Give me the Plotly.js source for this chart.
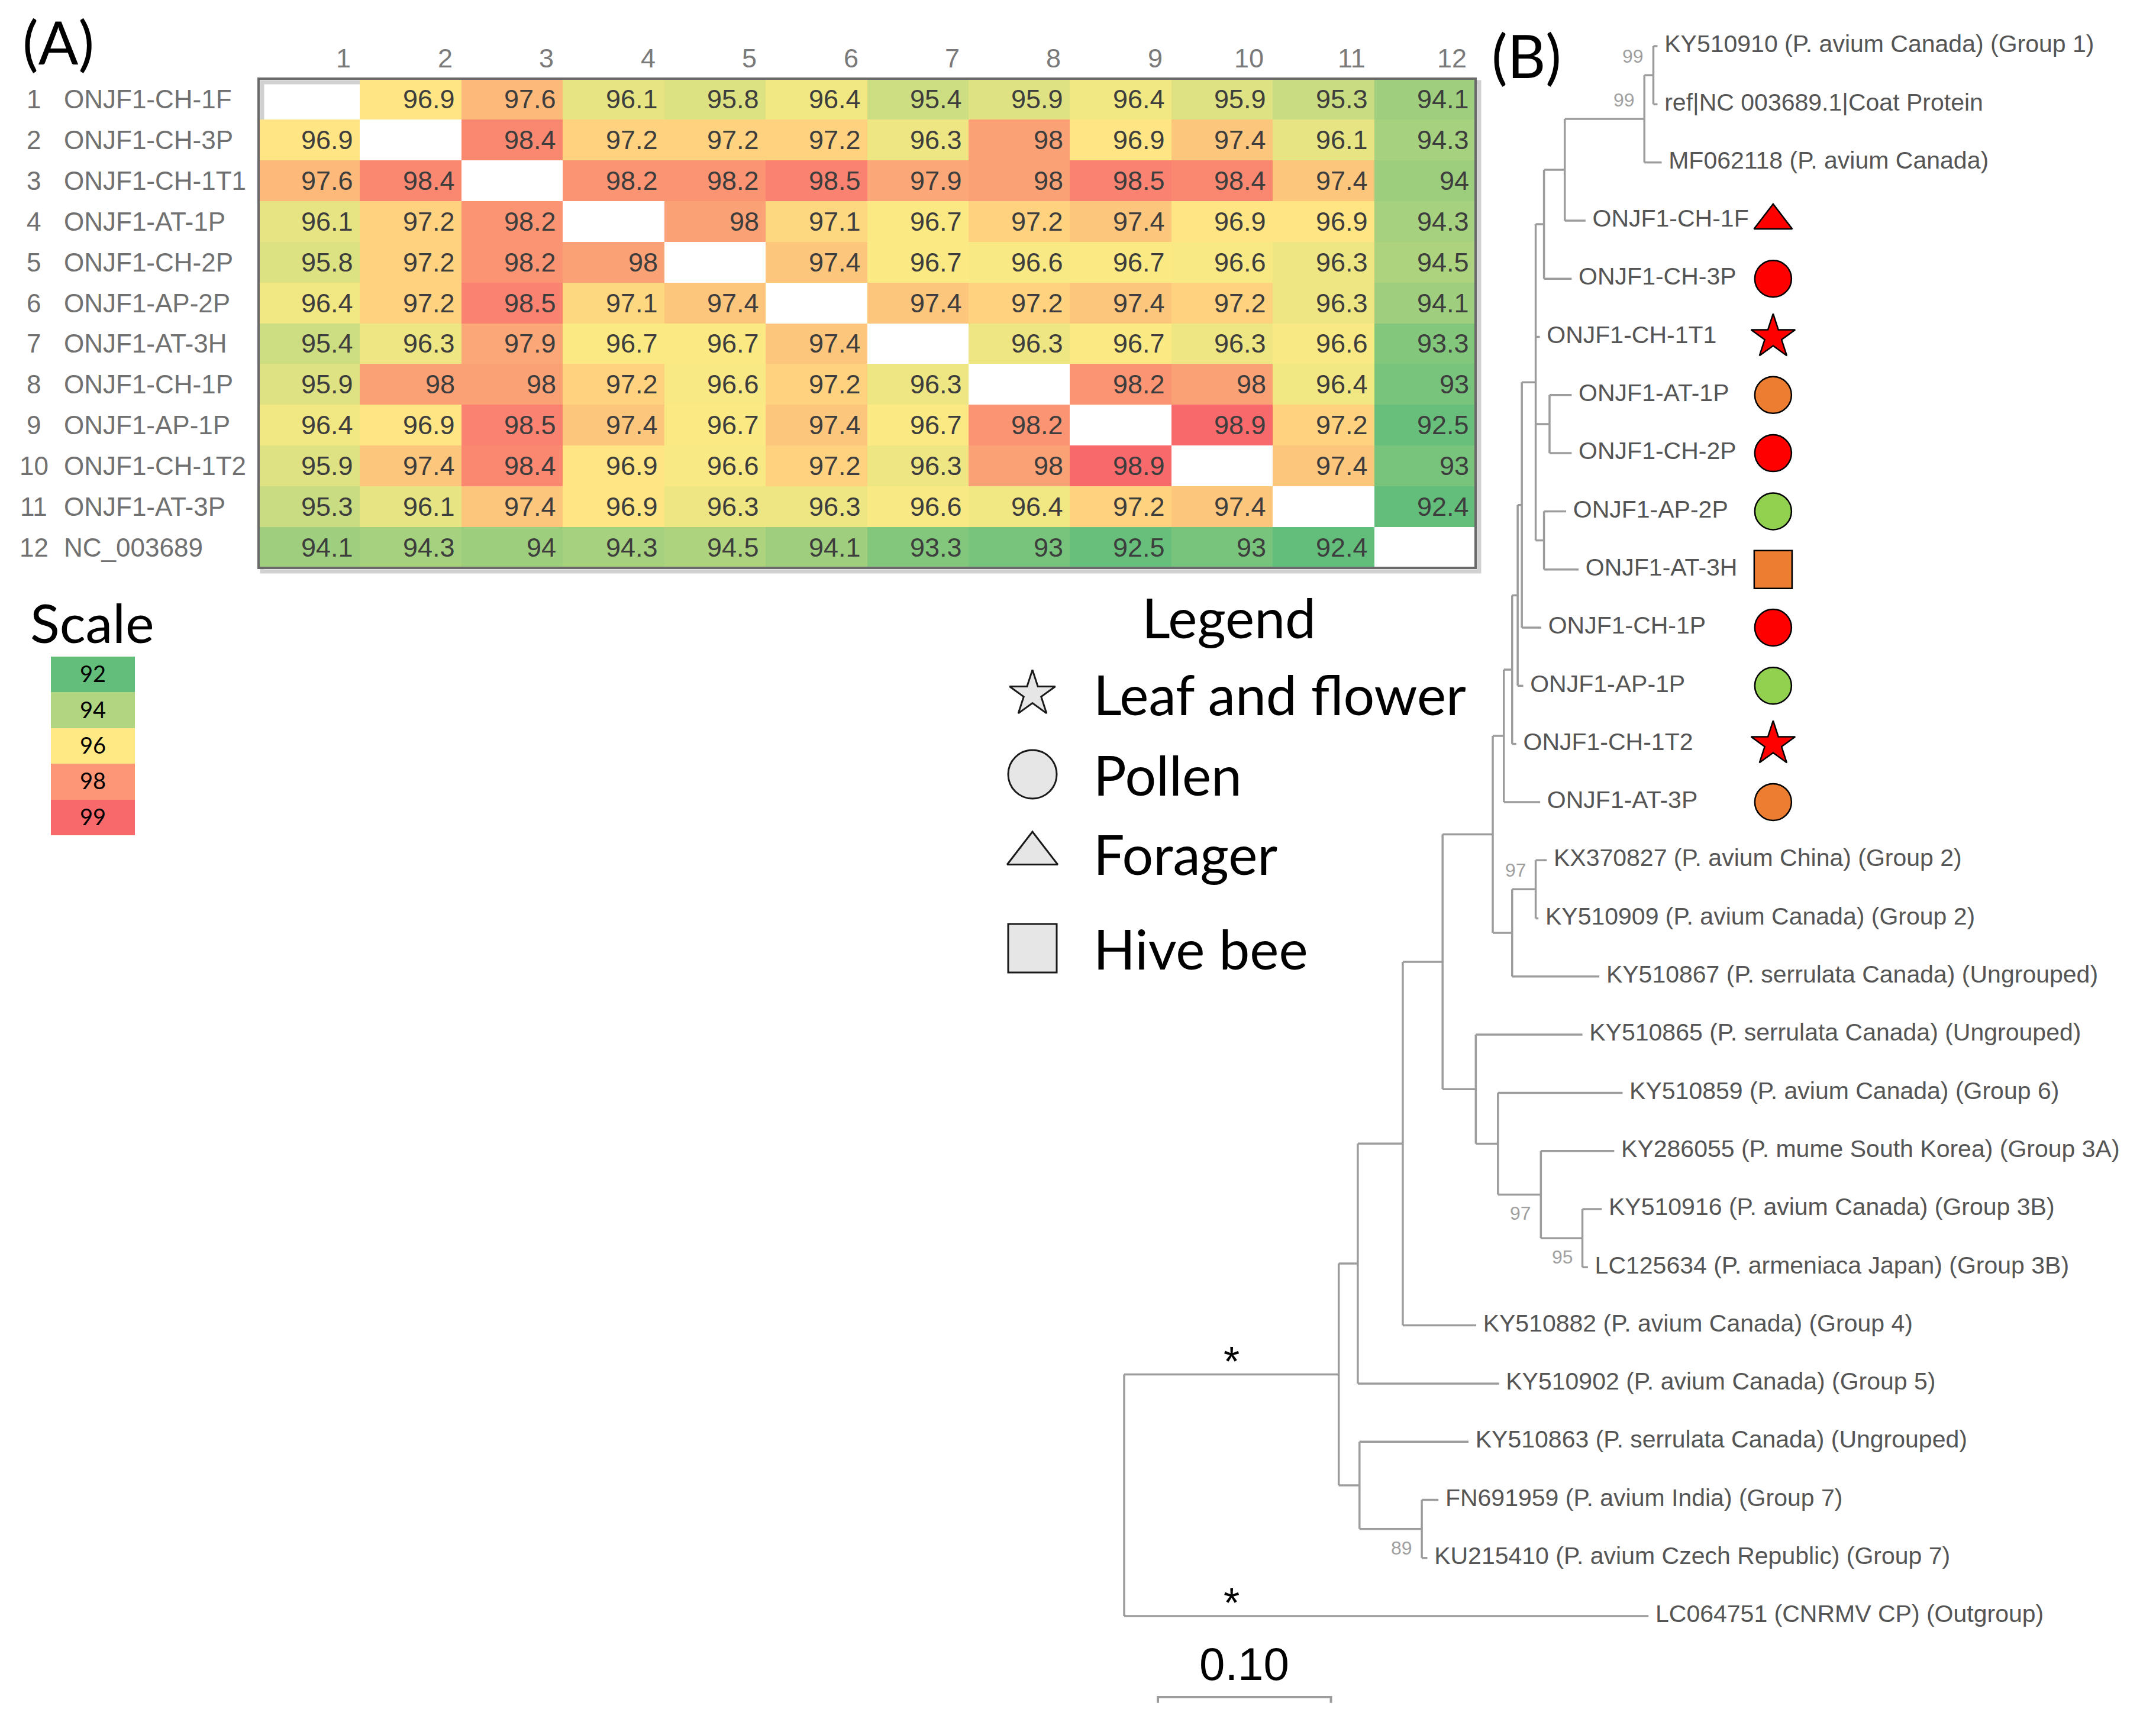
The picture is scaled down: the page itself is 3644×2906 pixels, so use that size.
<!DOCTYPE html>
<html>
<head>
<meta charset="utf-8">
<script src="https://cdn.plot.ly/plotly-3.0.1.min.js"></script>
<style>html,body{margin:0;padding:0;background:#fff;}</style>
</head>
<body>
<div id="chart" style="width:3644px;height:2906px;"></div>
<script>
// ---------------- DATA ----------------
const SAMPLES = ['ONJF1-CH-1F','ONJF1-CH-3P','ONJF1-CH-1T1','ONJF1-AT-1P','ONJF1-CH-2P','ONJF1-AP-2P',
  'ONJF1-AT-3H','ONJF1-CH-1P','ONJF1-AP-1P','ONJF1-CH-1T2','ONJF1-AT-3P','NC_003689'];
const COL_LABELS = ['1','2','3','4','5','6','7','8','9','10','11','12'];
const IDENTITY = [
  [null,96.9,97.6,96.1,95.8,96.4,95.4,95.9,96.4,95.9,95.3,94.1],
  [96.9,null,98.4,97.2,97.2,97.2,96.3,98,96.9,97.4,96.1,94.3],
  [97.6,98.4,null,98.2,98.2,98.5,97.9,98,98.5,98.4,97.4,94],
  [96.1,97.2,98.2,null,98,97.1,96.7,97.2,97.4,96.9,96.9,94.3],
  [95.8,97.2,98.2,98,null,97.4,96.7,96.6,96.7,96.6,96.3,94.5],
  [96.4,97.2,98.5,97.1,97.4,null,97.4,97.2,97.4,97.2,96.3,94.1],
  [95.4,96.3,97.9,96.7,96.7,97.4,null,96.3,96.7,96.3,96.6,93.3],
  [95.9,98,98,97.2,96.6,97.2,96.3,null,98.2,98,96.4,93],
  [96.4,96.9,98.5,97.4,96.7,97.4,96.7,98.2,null,98.9,97.2,92.5],
  [95.9,97.4,98.4,96.9,96.6,97.2,96.3,98,98.9,null,97.4,93],
  [95.3,96.1,97.4,96.9,96.3,96.3,96.6,96.4,97.2,97.4,null,92.4],
  [94.1,94.3,94,94.3,94.5,94.1,93.3,93,92.5,93,92.4,null]
];
const SCALE_VALUES = [92, 94, 96, 98, 99];
const SCALE_COLORS = ['#63BE7B', '#B1D580', '#FFE984', '#FC9676', '#F8696B'];
const LEGEND_LABELS = ['Leaf and flower', 'Pollen', 'Forager', 'Hive bee'];
const LEGEND_SYMBOLS = ['star', 'circle', 'triangle-up', 'square'];
const SOURCE_CODES = {T: 'Leaf and flower', P: 'Pollen', F: 'Forager', H: 'Hive bee'};
const SITE_COLORS = {CH: '#FF0000', AT: '#ED7D31', AP: '#92D050'};

const TREE_LEAVES = [
  'KY510910 (P. avium Canada) (Group 1)',
  'ref|NC 003689.1|Coat Protein',
  'MF062118 (P. avium Canada)',
  'ONJF1-CH-1F','ONJF1-CH-3P','ONJF1-CH-1T1','ONJF1-AT-1P','ONJF1-CH-2P','ONJF1-AP-2P',
  'ONJF1-AT-3H','ONJF1-CH-1P','ONJF1-AP-1P','ONJF1-CH-1T2','ONJF1-AT-3P',
  'KX370827 (P. avium China) (Group 2)',
  'KY510909 (P. avium Canada) (Group 2)',
  'KY510867 (P. serrulata Canada) (Ungrouped)',
  'KY510865 (P. serrulata Canada) (Ungrouped)',
  'KY510859 (P. avium Canada) (Group 6)',
  'KY286055 (P. mume South Korea) (Group 3A)',
  'KY510916 (P. avium Canada) (Group 3B)',
  'LC125634 (P. armeniaca Japan) (Group 3B)',
  'KY510882 (P. avium Canada) (Group 4)',
  'KY510902 (P. avium Canada) (Group 5)',
  'KY510863 (P. serrulata Canada) (Ungrouped)',
  'FN691959 (P. avium India) (Group 7)',
  'KU215410 (P. avium Czech Republic) (Group 7)',
  'LC064751 (CNRMV CP) (Outgroup)'
];
// tips are indices into TREE_LEAVES; internal labels are bootstrap values
const TREE_NEWICK = '(((((((((((((((0:0.0024,1:0.0024)99:0.0052,2:0.010)99:0.046,3:0.012):0.012,4:0.016):0.0048,' +
  '5:0.0024,(6:0.0128,7:0.0128):0.008,(8:0.0128,9:0.020):0.0048):0.008,10:0.0112):0.0024,11:0.0032):0.0032,' +
  '12:0.0024):0.0048,13:0.021):0.0064,((14:0.0064,15:0.0016)97:0.0136,16:0.0504):0.0112):0.029,' +
  '(17:0.0616,(18:0.072,(19:0.0424,(20:0.0112,21:0.0032)95:0.024)97:0.0248):0.0128):0.0192):0.023,' +
  '22:0.0424):0.026,23:0.0816):0.011,(24:0.063,(25:0.0096,26:0.0032)89:0.036):0.012):0.124,27:0.303);';
const ROOT_SUPPORT_MARK = '*';
const SCALE_BAR_LENGTH = 0.10;

// ---------------- GEOMETRY / STYLE ----------------
const W = 3644, H = 2906;
const px = x => x / W, py = y => 1 - y / H;
const HM = {x0: 437, x1: 2494, y0: 133, y1: 960};
const TREE = {pxLeft: 1800, rootPx: 1900, unitPx: 2925, leaf0Px: 78, leafStepPx: 98.3};
const LABEL_GAP = 0.004, MARKER_X = 0.375, SCALE_BAR_X0 = 0.0195;
const FONT_TAB = 'Liberation Sans, Arial, sans-serif';
const FONT_BIG = 'Lato, Open Sans, sans-serif';
const LINE_COL = '#9c9c9c';

// ---------------- HEATMAP ----------------
const offDiag = [];
IDENTITY.forEach(r => r.forEach(v => { if (v !== null) offDiag.push(v); }));
offDiag.sort((a, b) => a - b);
const zmin = offDiag[0], zmax = offDiag[offDiag.length - 1];
const n = offDiag.length;
const zmid = n % 2 ? offDiag[(n - 1) / 2] : (offDiag[n / 2 - 1] + offDiag[n / 2]) / 2;

const traces = [];
traces.push({
  type: 'heatmap', xaxis: 'x', yaxis: 'y',
  z: IDENTITY, x: COL_LABELS.map((_, j) => j), y: SAMPLES.map((_, i) => i),
  zmin: zmin, zmax: zmax, showscale: false, hoverinfo: 'skip',
  colorscale: [[0, '#63BE7B'], [(zmid - zmin) / (zmax - zmin), '#FFEB84'], [1, '#F8696B']]
});

const annotations = [];
IDENTITY.forEach((row, i) => row.forEach((v, j) => {
  if (v === null) return;
  annotations.push({xref: 'x', yref: 'y', x: j + 0.5, y: i, xanchor: 'right', yanchor: 'middle',
    xshift: -9, text: String(v), showarrow: false, font: {family: FONT_TAB, size: 45, color: '#3d3d3d'}});
}));
COL_LABELS.forEach((c, j) => annotations.push({xref: 'x', yref: 'paper', x: j + 0.5, y: py(98),
  xanchor: 'right', yanchor: 'middle', xshift: -13, text: c, showarrow: false,
  font: {family: FONT_TAB, size: 45, color: '#7a7a7a'}}));
SAMPLES.forEach((s, i) => {
  annotations.push({xref: 'paper', yref: 'y', x: px(57), y: i, xanchor: 'center', yanchor: 'middle',
    text: String(i + 1), showarrow: false, font: {family: FONT_TAB, size: 44, color: '#707070'}});
  annotations.push({xref: 'paper', yref: 'y', x: px(106), y: i, xanchor: 'left', yanchor: 'middle',
    text: s, showarrow: false, font: {family: FONT_TAB, size: 44, color: '#707070'}});
});

// ---------------- SCALE BOXES ----------------
const smin = Math.min(...SCALE_VALUES), smax = Math.max(...SCALE_VALUES);
traces.push({
  type: 'heatmap', xaxis: 'x3', yaxis: 'y3',
  z: SCALE_VALUES.map(v => [v]), x: [0], y: SCALE_VALUES.map((_, i) => i),
  zmin: smin, zmax: smax, showscale: false, hoverinfo: 'skip',
  colorscale: SCALE_VALUES.map((v, i) => [(v - smin) / (smax - smin), SCALE_COLORS[i]]),
  texttemplate: '%{z}', textfont: {family: FONT_BIG, size: 38, color: '#000'}
});

// ---------------- SYMBOL LEGEND ----------------
const LEGEND_ROW_PX = [1173, 1309, 1443, 1603];
const LEGEND_SIZES = {'star': 58, 'circle': 82, 'triangle-up': 74, 'square': 82};
traces.push({
  type: 'scatter', mode: 'markers', xaxis: 'x4', yaxis: 'y4', hoverinfo: 'skip',
  x: LEGEND_LABELS.map(() => 1745), y: LEGEND_LABELS.map((_, i) => LEGEND_ROW_PX[i]),
  marker: {symbol: LEGEND_SYMBOLS, size: LEGEND_SYMBOLS.map(s => LEGEND_SIZES[s]), opacity: 1,
    color: '#E6E6E6', line: {color: '#1a1a1a', width: 3}}
});
LEGEND_LABELS.forEach((l, i) => annotations.push({xref: 'paper', yref: 'paper', x: px(1846),
  y: py(LEGEND_ROW_PX[i]), xanchor: 'left', yanchor: 'middle', text: l, showarrow: false,
  font: {family: FONT_BIG, size: 93, color: '#000'}}));
annotations.push({xref: 'paper', yref: 'paper', x: px(2077), y: py(1043), xanchor: 'center', yanchor: 'middle',
  text: 'Legend', showarrow: false, font: {family: FONT_BIG, size: 93, color: '#000'}});
annotations.push({xref: 'paper', yref: 'paper', x: px(156), y: py(1051), xanchor: 'center', yanchor: 'middle',
  text: 'Scale', showarrow: false, font: {family: FONT_BIG, size: 92, color: '#000'}});
annotations.push({xref: 'paper', yref: 'paper', x: px(98), y: py(70), xanchor: 'center', yanchor: 'middle',
  text: '(A)', showarrow: false, font: {family: FONT_BIG, size: 100, color: '#000'}});
annotations.push({xref: 'paper', yref: 'paper', x: px(2580), y: py(93), xanchor: 'center', yanchor: 'middle',
  text: '(B)', showarrow: false, font: {family: FONT_BIG, size: 100, color: '#000'}});

// ---------------- TREE ----------------
function parseNewick(s) {
  let i = 0;
  function node() {
    const nd = {children: [], name: '', bl: 0, support: ''};
    if (s[i] === '(') {
      i++;
      nd.children.push(node());
      while (s[i] === ',') { i++; nd.children.push(node()); }
      i++;
    }
    let lab = '';
    while (i < s.length && !',():;'.includes(s[i])) lab += s[i++];
    if (nd.children.length) nd.support = lab; else nd.name = lab;
    if (s[i] === ':') {
      i++; let num = '';
      while (i < s.length && !',();'.includes(s[i])) num += s[i++];
      nd.bl = parseFloat(num);
    }
    return nd;
  }
  return node();
}
const root = parseNewick(TREE_NEWICK);
function layout(nd, x0) {
  nd.x = x0 + nd.bl;
  if (nd.children.length) {
    nd.children.forEach(c => layout(c, nd.x));
    nd.y = (nd.children[0].y + nd.children[nd.children.length - 1].y) / 2;
  } else nd.y = parseInt(nd.name, 10);
}
root.bl = 0; layout(root, 0);

const lx = [], ly = [], tips = [], supports = [];
function walk(nd, parent, idx) {
  if (parent) { lx.push(parent.x, nd.x, null); ly.push(nd.y, nd.y, null); }
  if (nd.children.length) {
    const c0 = nd.children[0], c1 = nd.children[nd.children.length - 1];
    lx.push(nd.x, nd.x, null); ly.push(c0.y, c1.y, null);
    if (nd.support) supports.push({x: nd.x, y: nd.y, v: nd.support, first: idx === 0});
    nd.children.forEach((c, k) => walk(c, nd, k));
  } else tips.push(nd);
}
walk(root, null, 0);

traces.push({type: 'scatter', mode: 'lines', xaxis: 'x2', yaxis: 'y2', x: lx, y: ly, hoverinfo: 'skip',
  line: {color: LINE_COL, width: 3.5}, connectgaps: false});
traces.push({type: 'scatter', mode: 'text', xaxis: 'x2', yaxis: 'y2', hoverinfo: 'skip', cliponaxis: false,
  x: tips.map(t => t.x + LABEL_GAP), y: tips.map(t => t.y), text: tips.map(t => TREE_LEAVES[t.y]),
  textposition: 'middle right', textfont: {family: FONT_TAB, size: 41, color: '#555555'}});

// sample markers
const TREE_SIZES = {'star': 56, 'circle': 62, 'triangle-up': 56, 'square': 64};
const samp = tips.filter(t => TREE_LEAVES[t.y].startsWith('ONJF1'));
const sampSym = samp.map(t => {
  const parts = TREE_LEAVES[t.y].split('-');
  const code = parts[2].match(/[A-Z]/)[0];
  return LEGEND_SYMBOLS[LEGEND_LABELS.indexOf(SOURCE_CODES[code])];
});
traces.push({type: 'scatter', mode: 'markers', xaxis: 'x2', yaxis: 'y2', hoverinfo: 'skip', cliponaxis: false,
  x: samp.map(() => MARKER_X), y: samp.map(t => t.y),
  marker: {symbol: sampSym, size: sampSym.map(s => TREE_SIZES[s]), opacity: 1,
    color: samp.map(t => SITE_COLORS[TREE_LEAVES[t.y].split('-')[1]]),
    line: {color: '#000', width: 2.5}}});

supports.forEach(s => annotations.push({xref: 'x2', yref: 'y2', x: s.x, y: s.y, xanchor: 'right', yanchor: 'middle',
  xshift: -14, yshift: s.first ? 32 : -32, text: s.v, showarrow: false,
  font: {family: FONT_TAB, size: 32, color: '#a0a0a0'}}));

// asterisks on the two root branches
const rootMid = (root.x + root.children[0].x) / 2;
root.children.forEach(c => annotations.push({xref: 'x2', yref: 'y2', x: rootMid, y: c.y, xanchor: 'center',
  yanchor: 'middle', yshift: 22, text: ROOT_SUPPORT_MARK, showarrow: false,
  font: {family: FONT_TAB, size: 70, color: '#000'}}));

// scale bar
const yBar = (2869 - TREE.leaf0Px) / TREE.leafStepPx;
traces.push({type: 'scatter', mode: 'lines', xaxis: 'x2', yaxis: 'y2', hoverinfo: 'skip', cliponaxis: false,
  x: [SCALE_BAR_X0, SCALE_BAR_X0, SCALE_BAR_X0 + SCALE_BAR_LENGTH, SCALE_BAR_X0 + SCALE_BAR_LENGTH],
  y: [yBar + 0.1, yBar, yBar, yBar + 0.1], line: {color: LINE_COL, width: 4}});
annotations.push({xref: 'x2', yref: 'y2', x: SCALE_BAR_X0 + SCALE_BAR_LENGTH / 2, y: (2813 - TREE.leaf0Px) / TREE.leafStepPx,
  xanchor: 'center', yanchor: 'middle', text: SCALE_BAR_LENGTH.toFixed(2), showarrow: false,
  font: {family: FONT_TAB, size: 78, color: '#000'}});

// ---------------- LAYOUT ----------------
const hidden = {visible: false, showgrid: false, zeroline: false, fixedrange: true};
const layoutObj = {
  width: W, height: H, margin: {l: 0, r: 0, t: 0, b: 0, pad: 0},
  paper_bgcolor: '#ffffff', plot_bgcolor: 'rgba(0,0,0,0)', showlegend: false,
  xaxis: Object.assign({domain: [px(HM.x0), px(HM.x1)], range: [-0.5, 11.5], anchor: 'y'}, hidden),
  yaxis: Object.assign({domain: [py(HM.y1), py(HM.y0)], range: [11.5, -0.5], anchor: 'x'}, hidden),
  xaxis2: Object.assign({domain: [px(TREE.pxLeft), 1],
    range: [(TREE.pxLeft - TREE.rootPx) / TREE.unitPx, (W - TREE.rootPx) / TREE.unitPx], anchor: 'y2'}, hidden),
  yaxis2: Object.assign({domain: [0, 1],
    range: [(H - TREE.leaf0Px) / TREE.leafStepPx, -TREE.leaf0Px / TREE.leafStepPx], anchor: 'x2'}, hidden),
  xaxis3: Object.assign({domain: [px(86), px(228)], range: [-0.5, 0.5], anchor: 'y3'}, hidden),
  yaxis3: Object.assign({domain: [py(1412), py(1110)], range: [4.5, -0.5], anchor: 'x3'}, hidden),
  xaxis4: Object.assign({domain: [0, 1], range: [0, W], anchor: 'y4'}, hidden),
  yaxis4: Object.assign({domain: [0, 1], range: [H, 0], anchor: 'x4'}, hidden),
  shapes: [
    {type: 'rect', xref: 'paper', yref: 'paper', layer: 'below',
      x0: px(HM.x0 + 6), x1: px(HM.x1 + 6), y0: py(HM.y1 + 6), y1: py(HM.y0 + 6),
      line: {color: 'rgba(0,0,0,0.18)', width: 7}},
    {type: 'rect', xref: 'paper', yref: 'paper', layer: 'above',
      x0: px(HM.x0), x1: px(HM.x1), y0: py(HM.y1), y1: py(HM.y0),
      line: {color: '#6a6a6a', width: 4}}
  ],
  annotations: annotations
};
Plotly.newPlot('chart', traces, layoutObj, {displayModeBar: false, staticPlot: true});
</script>
</body>
</html>
